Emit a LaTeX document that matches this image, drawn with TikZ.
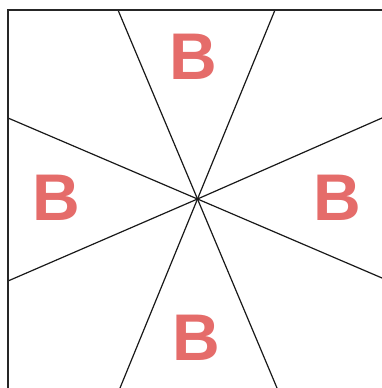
\documentclass[tikz,border=0pt]{standalone}
\usepackage{fontspec}
\setmainfont{Liberation Sans}
\definecolor{bred}{RGB}{229,108,106}
\begin{document}
\begin{tikzpicture}[x=1pt,y=1pt,
  spoke/.style={line width=1.2pt,black!90},
  frame/.style={line width=1.6pt,black!85},
  letter/.style={text=bred,font=\fontsize{66}{66}\selectfont\bfseries,inner sep=0pt,anchor=center}]
\useasboundingbox (0,0) rectangle (382,388);
\fill[white] (0,0) rectangle (382,388);
\clip (0,0) rectangle (382,388);
\coordinate (c) at (197.5,189);
\coordinate (t1) at (118,378);
\coordinate (t2) at (275,378);
\coordinate (b1) at (277,0);
\coordinate (b2) at (120,0);
\coordinate (l1) at (8,270);
\coordinate (l2) at (8,107);
\coordinate (r1) at (382,110);
\coordinate (r2) at (382,270);
\draw[spoke] (t1) -- (c) -- (b1);
\draw[spoke] (t2) -- (c) -- (b2);
\draw[spoke] (l1) -- (c) -- (r1);
\draw[spoke] (l2) -- (c) -- (r2);
\draw[frame] (8,-10) rectangle (395,378);
\node[letter] (bt) at (193,331) {B};
\node[letter] (bl) at (56,190) {B};
\node[letter] (br) at (337,190) {B};
\node[letter] (bb) at (196,50) {B};
\end{tikzpicture}
\end{document}
